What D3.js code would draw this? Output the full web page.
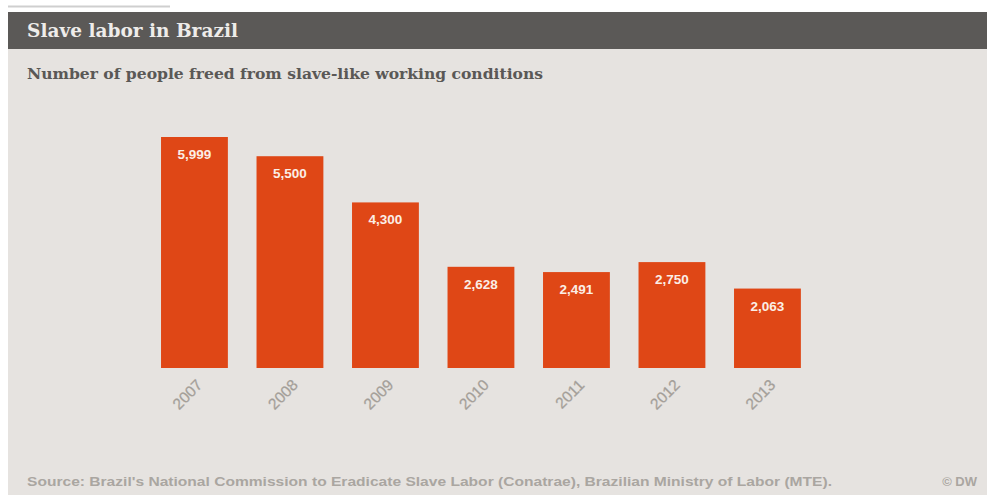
<!DOCTYPE html>
<html>
<head>
<meta charset="utf-8">
<script src="https://cdn.jsdelivr.net/npm/d3@7"></script>
<style>
  html, body { margin: 0; padding: 0; background: #fff; }
  svg { display: block; }
</style>
</head>
<body>
<svg id="chart" width="987" height="495"></svg>
<script>
const years = ['2007', '2008', '2009', '2010', '2011', '2012', '2013'];
const freed = [5999, 5500, 4300, 2628, 2491, 2750, 2063];

const title = 'Slave labor in Brazil';
const subtitle = 'Number of people freed from slave-like working conditions';
const source = "Source: Brazil's National Commission to Eradicate Slave Labor (Conatrae), Brazilian Ministry of Labor (MTE).";

function drawChart(){
    const svg = d3.select('#chart'),
    width = +svg.attr('width'),
    height = +svg.attr('height');

    // panel + header band
    svg.append('line')
    .attr('x1', 8).attr('x2', 170).attr('y1', 6.5).attr('y2', 6.5)
    .attr('stroke', '#cfcfcf').attr('stroke-width', 2);

    svg.append('rect')
    .attr('x', 8).attr('y', 49).attr('width', width - 8).attr('height', height - 49)
    .attr('fill', '#e6e3e0');

    svg.append('rect')
    .attr('x', 8).attr('y', 12).attr('width', width - 8).attr('height', 37)
    .attr('fill', '#5b5957');

    svg.append('text')
    .attr('x', 27).attr('y', 37)
    .attr('font-family', '"DejaVu Serif", serif')
    .attr('font-weight', 'bold')
    .attr('font-size', 18.5)
    .attr('fill', '#eeecea')
    .attr('textLength', 211)
    .attr('lengthAdjust', 'spacingAndGlyphs')
    .text(title);

    svg.append('text')
    .attr('x', 27).attr('y', 79)
    .attr('font-family', '"DejaVu Serif", serif')
    .attr('font-weight', 'bold')
    .attr('font-size', 15.5)
    .attr('fill', '#5a5856')
    .attr('textLength', 516)
    .attr('lengthAdjust', 'spacingAndGlyphs')
    .text(subtitle);

    const x = d3.scaleBand()
    .domain(years)
    .range([146.7, 815.2])
    .paddingInner(0.3)
    .paddingOuter(0.15);

    const y = d3.scaleLinear()
    .domain([0, 5999])
    .range([368, 137]);

    const bars = svg.append('g')
    .selectAll('g')
    .data(years.map((d, i) => ({ year: d, value: freed[i] })))
    .enter()
    .append('g');

    bars.append('rect')
    .attr('x', d => x(d.year))
    .attr('y', d => y(d.value))
    .attr('width', x.bandwidth())
    .attr('height', d => y(0) - y(d.value))
    .attr('fill', '#df4716');

    bars.append('text')
    .attr('x', d => x(d.year) + x.bandwidth() / 2)
    .attr('y', d => y(d.value) + 22)
    .attr('text-anchor', 'middle')
    .attr('font-family', '"Liberation Sans", Arial, sans-serif')
    .attr('font-weight', 'bold')
    .attr('font-size', 13.5)
    .attr('fill', '#fbeee6')
    .text(d => d3.format(',')(d.value));

    // rotated year labels
    const axis = svg.append('g')
    .attr('transform', `translate(0, ${y(0)})`)
    .call(d3.axisBottom(x).tickSize(0).tickPadding(0));

    axis.select('.domain').remove();
    axis.selectAll('text')
    .attr('font-family', '"Liberation Sans", Arial, sans-serif')
    .attr('font-size', 15.5)
    .attr('fill', '#a19c96')
    .attr('stroke', '#b0aba5')
    .attr('stroke-width', 0.3)
    .attr('text-anchor', 'end')
    .attr('dy', null)
    .attr('y', 0)
    .attr('transform', `translate(9, 18) rotate(-45)`);

    svg.append('text')
    .attr('x', 27).attr('y', 486)
    .attr('font-family', '"Liberation Sans", Arial, sans-serif')
    .attr('font-size', 13)
    .attr('font-weight', 'bold')
    .attr('fill', '#aaa6a1')
    .attr('textLength', 805)
    .attr('lengthAdjust', 'spacingAndGlyphs')
    .text(source);

    svg.append('text')
    .attr('x', 977).attr('y', 486)
    .attr('text-anchor', 'end')
    .attr('font-family', '"Liberation Sans", Arial, sans-serif')
    .attr('font-size', 13)
    .attr('font-weight', 'bold')
    .attr('fill', '#aaa6a1')
    .text('© DW');
}

drawChart();
</script>
</body>
</html>
